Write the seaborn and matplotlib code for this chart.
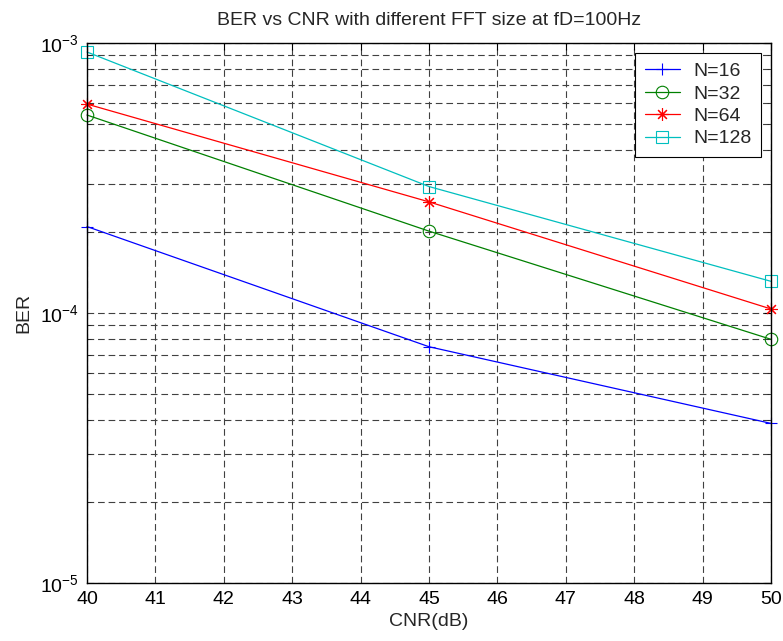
import matplotlib
matplotlib.use("Agg")
import matplotlib.pyplot as plt
import seaborn as sns
import numpy as np
import pandas as pd
from matplotlib.ticker import LogLocator, FixedLocator

# ---- data ----
cnr = [40, 45, 50]
ber_n16 = [2.09e-4, 7.5e-5, 3.9e-5]
ber_n32 = [5.41e-4, 2.01e-4, 7.99e-5]
ber_n64 = [5.94e-4, 2.58e-4, 1.035e-4]
ber_n128 = [9.26e-4, 2.94e-4, 1.31e-4]
labels = ["N=16", "N=32", "N=64", "N=128"]
x_ticks = [40, 41, 42, 43, 44, 45, 46, 47, 48, 49, 50]

series = [ber_n16, ber_n32, ber_n64, ber_n128]
colors = [(0, 0, 1), (0, 0.5, 0), (1, 0, 0), (0, 0.75, 0.75)]
markers = ["+", "o", (8, 2, 0), "s"]

sns.set_style("white")
plt.rcParams["font.family"] = ["Liberation Sans", "DejaVu Sans"]
plt.rcParams["mathtext.fontset"] = "custom"
plt.rcParams["mathtext.rm"] = "Liberation Sans"
plt.rcParams["mathtext.it"] = "Liberation Sans:italic"
plt.rcParams["mathtext.bf"] = "Liberation Sans:bold"

FS = 14

fig = plt.figure(figsize=(7.83, 6.41), dpi=100)
ax = fig.add_axes([87 / 783, 1 - 583 / 641, (771 - 87) / 783, (583 - 43) / 641])

for vals, lab, col, mk in zip(series, labels, colors, markers):
    df = pd.DataFrame({"CNR": cnr, "BER": vals})
    sns.lineplot(data=df, x="CNR", y="BER", ax=ax, color=col, marker=mk,
                 markersize=9, markerfacecolor="none", markeredgecolor=col,
                 markeredgewidth=0.8, linewidth=0.9, label=lab, clip_on=False)

ax.set_yscale("log")
ax.set_xlim(40, 50)
ax.set_ylim(1e-5, 1e-3)
ax.xaxis.set_major_locator(FixedLocator(x_ticks))
ax.yaxis.set_major_locator(LogLocator(base=10, numticks=10))
ax.yaxis.set_minor_locator(LogLocator(base=10, subs=np.arange(2, 10), numticks=20))

grid_kw = dict(color="0.25", linestyle=(0, (6, 3.5)), linewidth=0.8)
ax.grid(True, which="major", axis="both", **grid_kw)
ax.grid(True, which="minor", axis="y", **grid_kw)
ax.set_axisbelow(True)

for sp in ax.spines.values():
    sp.set_color("black")
    sp.set_linewidth(1.0)

ax.tick_params(axis="both", which="major", direction="in", length=5, width=0.8,
               top=True, right=True, labelsize=FS, colors="black", pad=6)
ax.tick_params(axis="y", which="minor", direction="in", length=3, width=0.6,
               right=True, left=True)
ax.tick_params(axis="x", which="minor", bottom=False, top=False)

ax.set_xlabel("CNR(dB)", fontsize=FS, labelpad=3)
ax.set_ylabel("BER", fontsize=FS, labelpad=5)
ax.set_title("BER vs CNR with different FFT size at fD=100Hz", fontsize=FS, pad=13)

leg = ax.legend(loc="upper right", fontsize=FS, frameon=True, fancybox=False,
                framealpha=1, edgecolor="black", borderaxespad=0.5,
                handlelength=1.8, handletextpad=0.7, labelspacing=0.25,
                borderpad=0.5)
leg.get_frame().set_linewidth(0.8)

fig.savefig("out.png", dpi=100)
